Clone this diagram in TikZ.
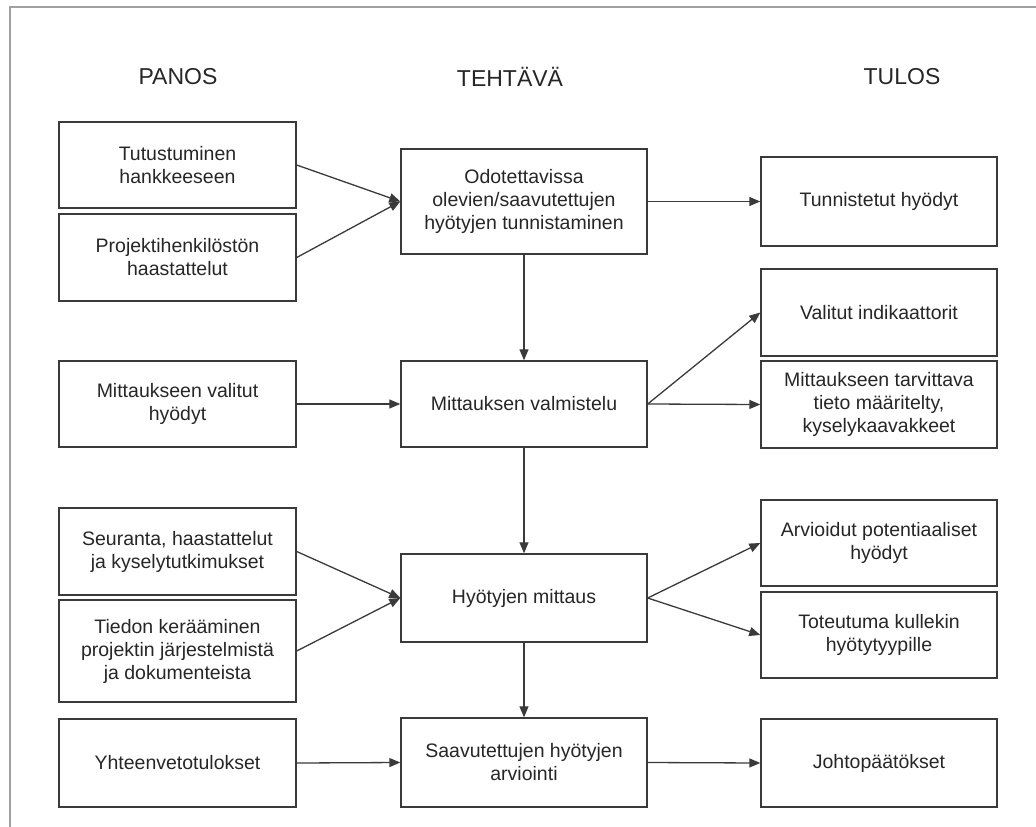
\documentclass[tikz,border=0pt]{standalone}
\usepackage{fontspec}
\setmainfont{Liberation Sans}
\usetikzlibrary{arrows.meta}
\definecolor{linecol}{HTML}{3A3A3A}
\definecolor{txtcol}{HTML}{262626}
\definecolor{framecol}{HTML}{A0A0A0}
\begin{document}
\begin{tikzpicture}[x=1pt,y=-1pt,
  box/.style={draw=linecol, line width=1.4pt, rectangle, align=center, inner sep=0pt,
    text=txtcol, font=\fontsize{19.5}{23}\selectfont},
  lbox/.style={box, minimum width=237pt},
  mbox/.style={box, minimum width=246pt},
  rbox/.style={box, minimum width=236pt},
  head/.style={text=txtcol, font=\fontsize{23}{27}\selectfont, inner sep=0pt},
  conn/.style={draw=linecol, line width=1.3pt, -{Triangle[length=11pt,width=9pt]}}
]
\useasboundingbox (0,0) rectangle (1036,827);
\draw[framecol, line width=1.4pt] (10,827) -- (10,7) -- (1036,7);

\node[head] (hp) at (178,77) {PANOS};
\node[head] (ht) at (510,77) {TEHTÄVÄ};
\node[head] (hu) at (902,77) {TULOS};

\node[lbox, minimum height=86pt] (l1) at (177.5,165) {Tutustuminen\\hankkeeseen};
\node[lbox, minimum height=87pt] (l2) at (177.5,257.5) {Projektihenkilöstön\\haastattelut};
\node[lbox, minimum height=86pt] (l3) at (177.5,404) {Mittaukseen valitut\\hyödyt};
\node[lbox, minimum height=87pt] (l4) at (177.5,551.5) {Seuranta, haastattelut\\ja kyselytutkimukset};
\node[lbox, minimum height=102pt] (l5) at (177.5,651) {Tiedon kerääminen\\projektin järjestelmistä\\ja dokumenteista};
\node[lbox, minimum height=88pt] (l6) at (177.5,763) {Yhteenvetotulokset};

\node[mbox, minimum height=105pt] (m1) at (524,201.5) {Odotettavissa\\olevien/saavutettujen\\hyötyjen tunnistaminen};
\node[mbox, minimum height=86pt] (m2) at (524,404) {Mittauksen valmistelu};
\node[mbox, minimum height=88pt] (m3) at (524,598) {Hyötyjen mittaus};
\node[mbox, minimum height=89pt] (m4) at (524,762.5) {Saavutettujen hyötyjen\\arviointi};

\node[rbox, minimum height=89pt] (r1) at (879,201.5) {Tunnistetut hyödyt};
\node[rbox, minimum height=87pt] (r2) at (879,312.5) {Valitut indikaattorit};
\node[rbox, minimum height=87pt] (r3) at (879,404.5) {Mittaukseen tarvittava\\tieto määritelty,\\kyselykaavakkeet};
\node[rbox, minimum height=86pt] (r4) at (879,543) {Arvioidut potentiaaliset\\hyödyt};
\node[rbox, minimum height=86pt] (r5) at (879,635) {Toteutuma kullekin\\hyötytyypille};
\node[rbox, minimum height=88pt] (r6) at (879,763) {Johtopäätökset};

\draw[conn] (l1.east) -- (m1.west);
\draw[conn] (l2.east) -- (m1.west);
\draw[conn] (m1.east) -- (r1.west);
\draw[conn] (m1.south) -- (m2.north);
\draw[conn] (l3.east) -- (m2.west);
\draw[conn] (m2.east) -- (r2.west);
\draw[conn] (m2.east) -- (r3.west);
\draw[conn] (m2.south) -- (m3.north);
\draw[conn] (l4.east) -- (m3.west);
\draw[conn] (l5.east) -- (m3.west);
\draw[conn] (m3.east) -- (r4.west);
\draw[conn] (m3.east) -- (r5.west);
\draw[conn] (m3.south) -- (m4.north);
\draw[conn] (l6.east) -- (m4.west);
\draw[conn] (m4.east) -- (r6.west);
\end{tikzpicture}
\end{document}
